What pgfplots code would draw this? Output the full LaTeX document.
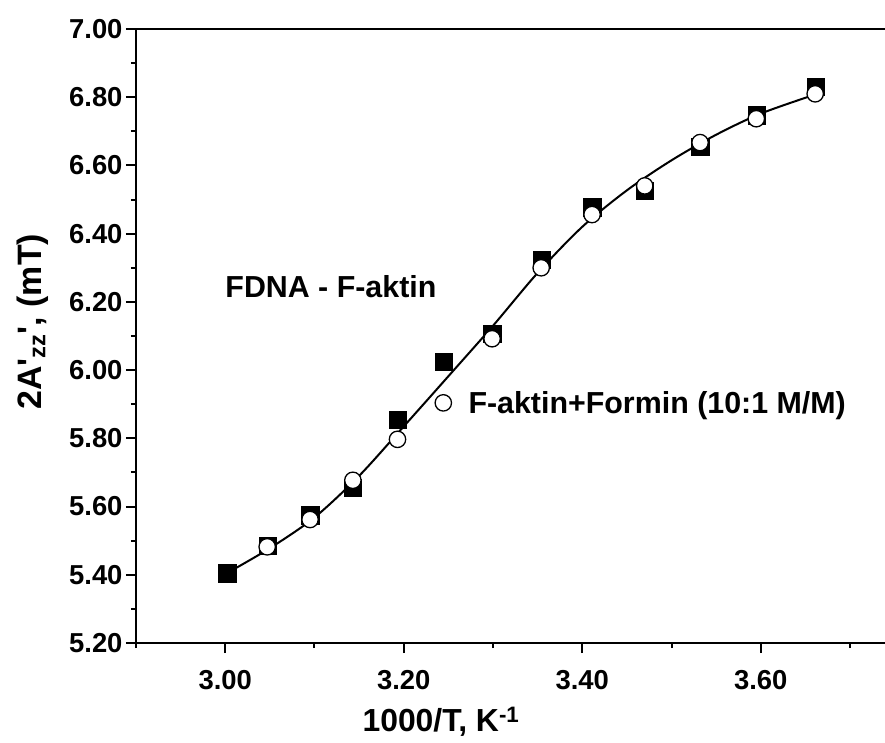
\documentclass[border=0pt]{standalone}
\usepackage{fontspec}
\setmainfont{Liberation Sans}
\usepackage{pgfplots}
\pgfplotsset{compat=1.18}
\begin{document}
\begin{tikzpicture}
\path[use as bounding box] (-136bp,-100bp) rectangle (749bp,643bp);
\begin{axis}[
  at={(0,0)}, anchor=south west,
  scale only axis, width=753bp, height=614bp,
  xmin=2.90, xmax=3.7437, ymin=5.20, ymax=7.00,
  xtick={3.0,3.2,3.4,3.6},
  minor xtick={2.9,3.1,3.3,3.5,3.7},
  ytick={5.2,5.4,5.6,5.8,6.0,6.2,6.4,6.6,6.8,7.0},
  minor ytick={5.3,5.5,5.7,5.9,6.1,6.3,6.5,6.7,6.9},
  xtick pos=bottom, ytick pos=left,
  tick align=outside,
  major tick length=10bp, minor tick length=5bp,
  tick style={black, line width=2bp},
  axis line style={line width=2.5bp, black},
  /pgf/number format/assume math mode=true,
  ticklabel style={font=\fontsize{27.5}{27.5}\selectfont\bfseries},
  xticklabel style={yshift=-14bp, /pgf/number format/fixed, /pgf/number format/fixed zerofill, /pgf/number format/precision=2},
  yticklabel style={/pgf/number format/fixed, /pgf/number format/fixed zerofill, /pgf/number format/precision=2},
  xlabel={1000/T, K\textsuperscript{-1}},
  ylabel={2A\textquotesingle\textsubscript{zz}\textquotesingle, (mT)},
  xlabel style={at={(rel axis cs:0.405,-0.1287)}, anchor=center, font=\fontsize{32}{32}\selectfont\bfseries},
  ylabel style={at={(rel axis cs:-0.1373,0.523)}, anchor=center, font=\fontsize{34}{34}\selectfont\bfseries},
  legend style={at={(axis cs:3.245,5.904)}, anchor=west, xshift=-9bp, draw=none, fill=none, inner sep=0pt, nodes={inner sep=0pt}, font=\fontsize{30.5}{30.5}\selectfont\bfseries},
  legend cell align=left,
  legend image code/.code={\draw[#1] plot coordinates {(0bp,0bp)};},
]
\addplot[forget plot, only marks, mark=square*, mark size=8.6bp, mark options={fill=black, draw=black, line width=0.1bp}] coordinates {
(3.002,5.405) (3.047,5.485) (3.095,5.575) (3.143,5.655) (3.193,5.856)
(3.245,6.025) (3.299,6.108) (3.354,6.325) (3.411,6.478) (3.470,6.527)
(3.532,6.655) (3.595,6.748) (3.661,6.832)
};
\addplot[only marks, mark=*, mark size=8.2bp, mark options={fill=white, draw=black, line width=1.3bp}] coordinates {
(3.047,5.482) (3.095,5.562) (3.143,5.677) (3.193,5.797) (3.299,6.092)
(3.354,6.300) (3.411,6.456) (3.470,6.540) (3.532,6.667) (3.595,6.737)
(3.661,6.810)
};
\addlegendentry{\hspace*{17bp}F-aktin+Formin (10:1 M/M)}
\addplot[forget plot, smooth, no marks, black, line width=2bp] coordinates {
(3.002,5.405) (3.05,5.478) (3.10,5.568) (3.15,5.690) (3.20,5.835)
(3.25,5.982) (3.30,6.130) (3.35,6.285) (3.40,6.420) (3.45,6.527)
(3.50,6.615) (3.55,6.690) (3.60,6.752) (3.661,6.808)
};
\node[anchor=west, inner sep=0pt, font=\fontsize{30.5}{30.5}\selectfont\bfseries] at (axis cs:3.0,6.244) {FDNA - F-aktin};
\end{axis}
\end{tikzpicture}
\end{document}
